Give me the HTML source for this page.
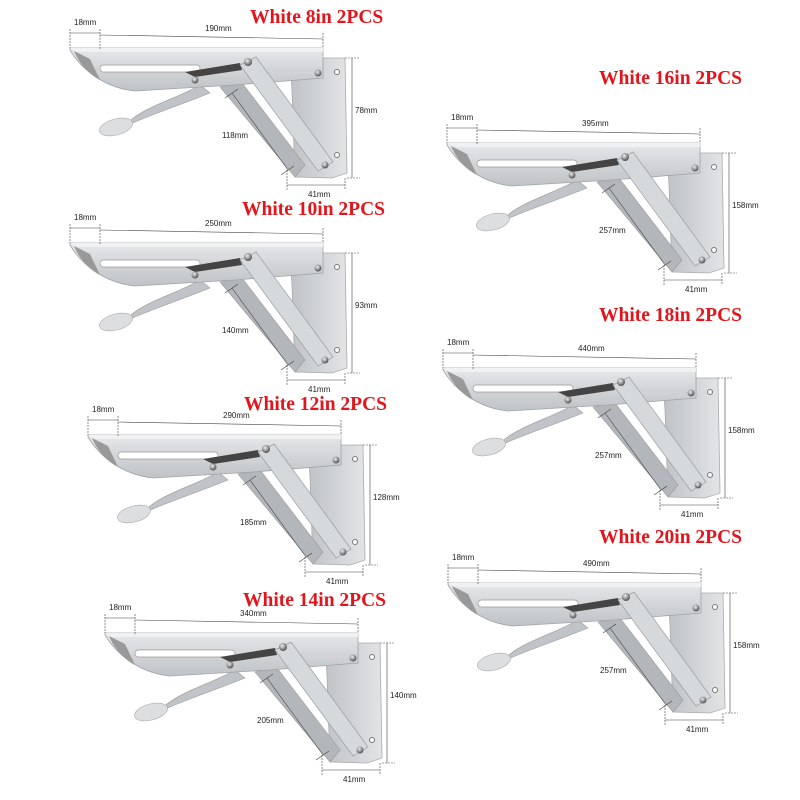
<!DOCTYPE html>
<html><head><meta charset="utf-8"><style>
html,body{margin:0;padding:0;background:#fff;width:800px;height:800px;overflow:hidden}
svg{display:block}
.t{font-family:"Liberation Serif",serif;font-weight:bold;font-size:19.5px;fill:#e3141b}
.d{font-family:"Liberation Sans",sans-serif;font-size:8px;fill:#222}
</style></head><body>
<svg width="800" height="800" viewBox="0 0 800 800" xmlns="http://www.w3.org/2000/svg">
<defs>
<linearGradient id="bar" x1="0" y1="0" x2="0" y2="1"><stop offset="0" stop-color="#e6e8ea"/><stop offset="1" stop-color="#bfc2c6"/></linearGradient>
<linearGradient id="pl" x1="0" y1="0" x2="1" y2="0"><stop offset="0" stop-color="#bfc2c6"/><stop offset="1" stop-color="#e2e4e6"/></linearGradient>
<radialGradient id="rv" cx="0.4" cy="0.35" r="0.7"><stop offset="0" stop-color="#eee"/><stop offset="0.6" stop-color="#888"/><stop offset="1" stop-color="#444"/></radialGradient>
<g id="br">
  <path d="M220,13 L275,13 L277,128 L262,133 L225,132 L222,45 Z" fill="url(#pl)" stroke="#aaa" stroke-width="0.8"/>
  <circle cx="267" cy="27" r="2.5" fill="#fff" stroke="#777"/>
  <circle cx="267" cy="110" r="2.5" fill="#fff" stroke="#777"/>
  <path d="M150,42 L172,38 L235,120 L225,132 Z" fill="#b3b6ba" stroke="#999" stroke-width="0.6"/>
  <path d="M130,40 C110,52 80,60 62,74 L58,80 C80,70 105,62 140,48 Z" fill="#c0c3c7" stroke="#999" stroke-width="0.6"/>
  <ellipse cx="46" cy="82" rx="17" ry="8" fill="#dcdee0" stroke="#aaa" stroke-width="0.6" transform="rotate(-15 46 82)"/>
  <path d="M0,3 L253,3 L253,33 L165,40 L65,46 C35,43 12,25 0,5 Z" fill="url(#bar)" stroke="#a0a3a7" stroke-width="0.8"/>
  <path d="M0,3 L253,3 L253,7 L5,7 Z" fill="#f0f1f2"/>
  <path d="M4,6 C10,20 20,30 30,35 L20,14 Z" fill="#999"/>
  <rect x="30" y="20" width="100" height="7" rx="3.5" fill="#fff" stroke="#999" stroke-width="0.7"/>
  <path d="M115,27 L170,18 L172,25 L125,32 Z" fill="#444"/>
  <path d="M170,20 L186,12 L263,117 L248,126 Z" fill="#d6d9dc" stroke="#9a9da1" stroke-width="0.7"/>
  <circle cx="125" cy="35" r="3.5" fill="url(#rv)"/>
  <circle cx="178" cy="17" r="4" fill="url(#rv)"/>
  <circle cx="248" cy="28" r="3.5" fill="url(#rv)"/>
  <circle cx="255" cy="120" r="3.5" fill="url(#rv)"/>
  <g stroke="#444" stroke-width="0.6" fill="none">
    <line x1="0" y1="-12" x2="30" y2="-12"/>
    <line x1="30" y1="-10" x2="253" y2="-6"/>
    <line x1="0" y1="-16" x2="0" y2="3" stroke-dasharray="2,1"/>
    <line x1="30" y1="-16" x2="30" y2="5" stroke-dasharray="2,1"/>
    <line x1="253" y1="-12" x2="253" y2="3" stroke-dasharray="2,1"/>
    <line x1="282" y1="13" x2="282" y2="133"/>
    <line x1="275" y1="13" x2="290" y2="13" stroke-dasharray="2,1"/>
    <line x1="277" y1="133" x2="290" y2="133" stroke-dasharray="2,1"/>
    <line x1="162" y1="48" x2="218" y2="125"/>
    <line x1="155" y1="53" x2="168" y2="44"/>
    <line x1="211" y1="130" x2="224" y2="121"/>
    <line x1="217" y1="140" x2="275" y2="140"/>
    <line x1="217" y1="125" x2="217" y2="145" stroke-dasharray="2,1"/>
    <line x1="275" y1="133" x2="275" y2="145" stroke-dasharray="2,1"/>
  </g>
</g>
</defs>

<text class="t" x="250" y="23">White 8in 2PCS</text>
<text class="t" x="242" y="215">White 10in 2PCS</text>
<text class="t" x="244" y="410">White 12in 2PCS</text>
<text class="t" x="243" y="606">White 14in 2PCS</text>
<text class="t" x="599" y="84">White 16in 2PCS</text>
<text class="t" x="599" y="321">White 18in 2PCS</text>
<text class="t" x="599" y="543">White 20in 2PCS</text>

<g transform="translate(70,45)"><use href="#br"/>
<text class="d" x="4" y="-20">18mm</text><text class="d" x="135" y="-14">190mm</text><text class="d" x="285" y="68">78mm</text><text class="d" x="152" y="93">118mm</text><text class="d" x="238" y="152">41mm</text></g>
<g transform="translate(70,240)"><use href="#br"/>
<text class="d" x="4" y="-20">18mm</text><text class="d" x="135" y="-14">250mm</text><text class="d" x="285" y="68">93mm</text><text class="d" x="152" y="93">140mm</text><text class="d" x="238" y="152">41mm</text></g>
<g transform="translate(88,432)"><use href="#br"/>
<text class="d" x="4" y="-20">18mm</text><text class="d" x="135" y="-14">290mm</text><text class="d" x="285" y="68">128mm</text><text class="d" x="152" y="93">185mm</text><text class="d" x="238" y="152">41mm</text></g>
<g transform="translate(105,630)"><use href="#br"/>
<text class="d" x="4" y="-20">18mm</text><text class="d" x="135" y="-14">340mm</text><text class="d" x="285" y="68">140mm</text><text class="d" x="152" y="93">205mm</text><text class="d" x="238" y="152">41mm</text></g>
<g transform="translate(447,140)"><use href="#br"/>
<text class="d" x="4" y="-20">18mm</text><text class="d" x="135" y="-14">395mm</text><text class="d" x="285" y="68">158mm</text><text class="d" x="152" y="93">257mm</text><text class="d" x="238" y="152">41mm</text></g>
<g transform="translate(443,365)"><use href="#br"/>
<text class="d" x="4" y="-20">18mm</text><text class="d" x="135" y="-14">440mm</text><text class="d" x="285" y="68">158mm</text><text class="d" x="152" y="93">257mm</text><text class="d" x="238" y="152">41mm</text></g>
<g transform="translate(448,580)"><use href="#br"/>
<text class="d" x="4" y="-20">18mm</text><text class="d" x="135" y="-14">490mm</text><text class="d" x="285" y="68">158mm</text><text class="d" x="152" y="93">257mm</text><text class="d" x="238" y="152">41mm</text></g>
</svg>
</body></html>
